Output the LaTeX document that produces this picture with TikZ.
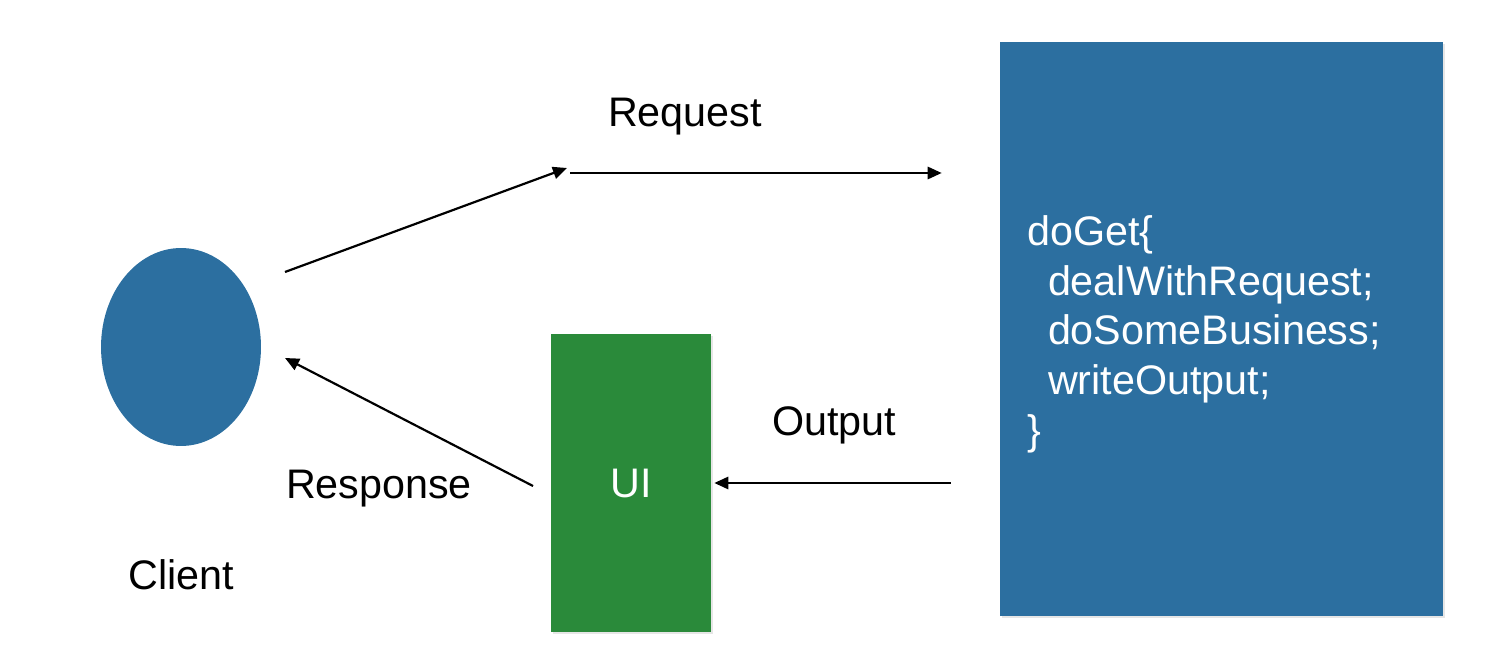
\documentclass[tikz,border=0pt]{standalone}
\usepackage{fontspec}
\setmainfont{Liberation Sans}
\usetikzlibrary{arrows.meta,shapes.geometric,shadows}

\definecolor{boxblue}{RGB}{44,111,160}
\definecolor{uigreen}{RGB}{42,138,58}

\tikzset{
  flow/.style={line width=1.25pt,-{Triangle[length=8pt,width=7pt]}},
  lbl/.style={font=\fontsize{23.5}{28.35}\selectfont},
  paper/.style={draw=none,inner sep=0pt,
    drop shadow={shadow xshift=1pt,shadow yshift=-1pt,opacity=0.2}}
}

\begin{document}
\begin{tikzpicture}[x=0.02cm,y=-0.02cm]
  \useasboundingbox (0,0) rectangle (1490,668);

  % client, ui and server
  \node[ellipse,fill=boxblue,inner sep=0pt,minimum width=3.2cm,minimum height=3.96cm] (client) at (181,347) {};
  \node[lbl] (clientlbl) at (181,575) {Client};
  \node[paper,fill=uigreen,lbl,text=white,minimum width=3.2cm,minimum height=5.96cm] (ui) at (631,483) {UI};
  \node[paper,fill=boxblue,minimum width=8.86cm,minimum height=11.48cm] (server) at (1221.5,329) {};
  \node[lbl,text=white,align=left,anchor=north west,inner sep=0pt] (code) at (1027,215)
    {doGet\{\\
     \hspace*{0.5em}dealWithRequest;\\
     \hspace*{0.5em}doSomeBusiness;\\
     \hspace*{0.5em}writeOutput;\\
     \}};

  % request
  \coordinate (clientout) at (285,272);
  \coordinate (reqbend) at (567,168);
  \coordinate (reqstart) at (570,173);
  \draw[flow] (clientout) -- (reqbend);
  \draw[flow,shorten >=1.16cm] (reqstart) -- (reqstart -| server.west);
  \node[lbl] (reqlbl) at (685,117) {Request};

  % output and response
  \draw[flow,shorten <=0.98cm,shorten >=0.06cm] (ui.east -| server.west) -- (ui.east);
  \node[lbl] (outlbl) at (834,425) {Output};
  \coordinate (uiout) at (533,486);
  \coordinate (clientin) at (285,358);
  \draw[flow] (uiout) -- (clientin);
  \node[lbl] (resplbl) at (379,489) {Response};
\end{tikzpicture}
\end{document}
